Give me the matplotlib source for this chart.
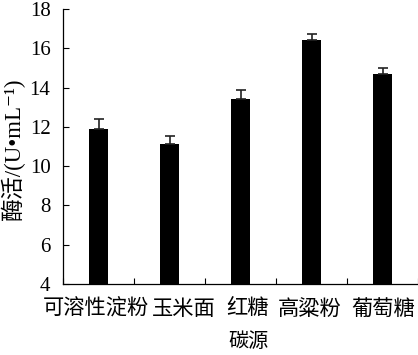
import matplotlib
matplotlib.use("Agg")
import matplotlib.pyplot as plt
import matplotlib.transforms as mtransforms
import numpy as np

carbon_sources = ["可溶性淀粉", "玉米面", "红糖", "高粱粉", "葡萄糖"]
activity = [11.89, 11.14, 13.43, 16.42, 14.69]
activity_err = [0.50, 0.41, 0.43, 0.33, 0.29]
y_ticks = [4, 6, 8, 10, 12, 14, 16, 18]

W, H = 418, 355
fig = plt.figure(figsize=(W / 100, H / 100), dpi=100)
ax = fig.add_axes([63 / W, (H - 284) / H, (W - 63) / W, (284 - 9) / H])

x = np.arange(len(carbon_sources))
ax.bar(x, activity, width=0.28, color="black", zorder=2)
ax.errorbar(x, activity, yerr=[np.zeros(len(x)), activity_err], fmt="none",
            ecolor="#222222", elinewidth=1.2, capsize=3.6, capthick=1.2, zorder=3)

ax.set_xlim(-0.5, len(x) - 0.5)
ax.set_ylim(4, 18)
ax.set_yticks(y_ticks)
ax.set_yticklabels([str(v) for v in y_ticks], family="Liberation Serif", fontsize=15)

# boundary ticks (no label) + centered labels
ax.set_xticks(np.arange(len(x) + 1) - 0.5)
ax.set_xticklabels([])
ax.set_xticks(x, minor=True)
ax.set_xticklabels(carbon_sources, minor=True, family="Noto Sans CJK SC", fontsize=15.3)
ax.tick_params(axis="x", which="major", direction="in", length=4, width=0.8)
ax.tick_params(axis="x", which="minor", length=0, pad=10)
ax.tick_params(axis="y", direction="in", length=4, width=0.8, pad=9)

# nudge crowded labels sideways like the original
offsets = [-3, 14.5, 6.5, -1.5, 0.5]
for lab, dx in zip(ax.get_xticklabels(minor=True), offsets):
    lab.set_transform(lab.get_transform() + mtransforms.ScaledTranslation(dx / 100, 0, fig.dpi_scale_trans))

for s in ["top", "right"]:
    ax.spines[s].set_visible(False)
for s in ["left", "bottom"]:
    ax.spines[s].set_linewidth(0.9)

ax.set_xlabel("碳源", family="Noto Sans CJK SC", fontsize=14.5, labelpad=8)
ax.xaxis.label.set_transform(ax.xaxis.label.get_transform() + mtransforms.ScaledTranslation(8 / 100, 0, fig.dpi_scale_trans))
fig.text(13 / W, (H - 149) / H, "酶活/(U•mL⁻¹)", rotation=90, ha="center", va="center",
         family=["Liberation Serif", "Noto Sans CJK SC", "DejaVu Sans"], fontsize=16.5)

fig.savefig("out.png", dpi=100)
